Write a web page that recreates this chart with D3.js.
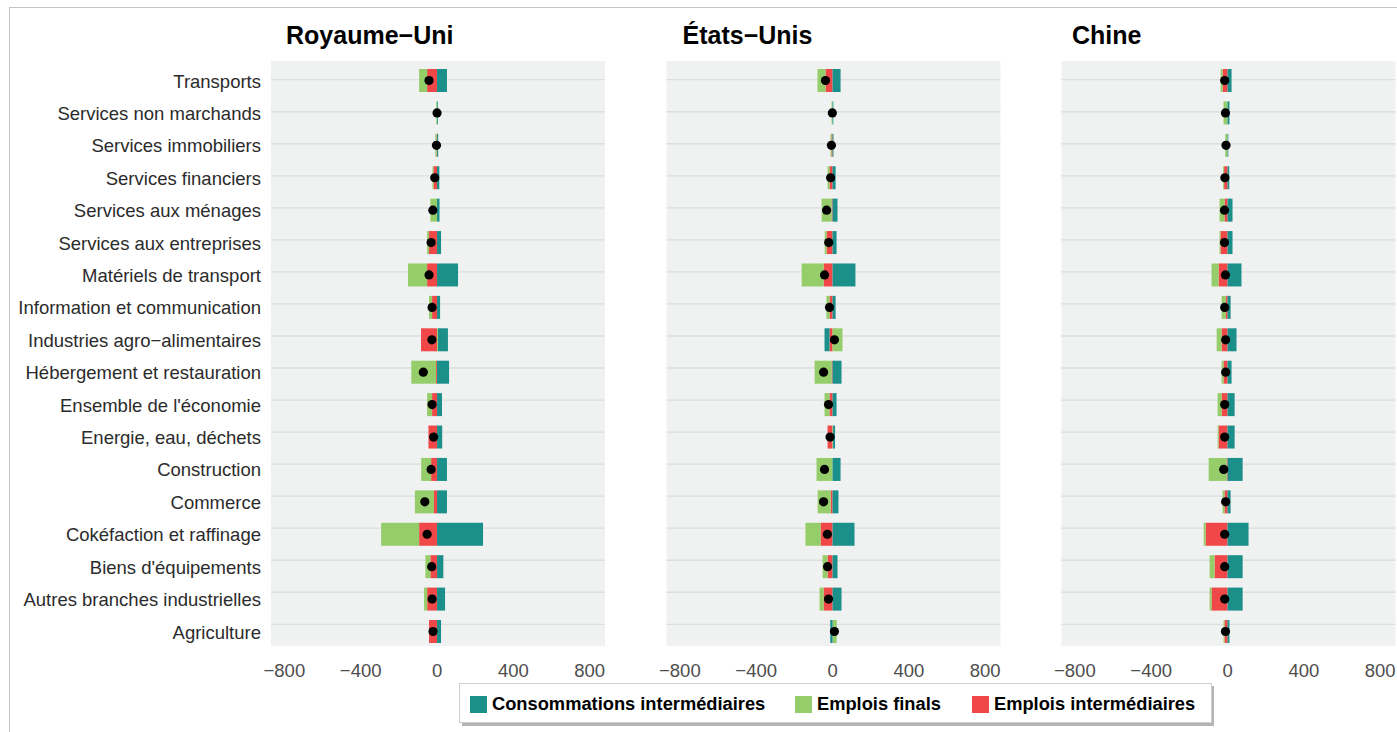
<!DOCTYPE html>
<html lang="fr">
<head>
<meta charset="utf-8">
<title>Branches</title>
<script src="https://cdn.jsdelivr.net/npm/d3@7"></script>
<style>
  body { margin: 0; background: #fff; }
  text { font-family: "Liberation Sans", Arial, sans-serif; }
</style>
</head>
<body>
<div id="chart"></div>
<script>
// categories, top to bottom
var categories = ["Transports", "Services non marchands", "Services immobiliers", "Services financiers",
  "Services aux ménages", "Services aux entreprises", "Matériels de transport", "Information et communication",
  "Industries agro−alimentaires", "Hébergement et restauration", "Ensemble de l'économie", "Energie, eau, déchets ",
  "Construction", "Commerce", "Cokéfaction et raffinage", "Biens d'équipements",
  "Autres branches industrielles", "Agriculture"];

var countries = ["Royaume−Uni", "États−Unis", "Chine"];
var seriesNames = ["Consommations intermédiaires", "Emplois finals", "Emplois intermédiaires"];
var xTicks = [-800, -400, 0, 400, 800];

// Royaume-Uni
var ukCI = [52, 4, 6, 12, 13, 21, 110, 16, 52, 63, 26, 27, 52, 52, 241, 33, 42, 21];
var ukEF = [-42, -4, -6, -5, -35, -10, -100, -16, 5, -130, -26, 0, -52, -100, -199, -26, -16, 0];
var ukEI = [-52, 0, -3, -19, 0, -42, -52, -26, -84, -5, -26, -45, -31, -16, -94, -35, -52, -42];
// Etats-Unis
var usCI = [42, 4, 5, 16, 26, 21, 120, 16, -26, 47, 21, 10, 42, 31, 115, 26, 47, -12];
var usEF = [-42, -5, -5, -10, -52, -10, -115, -16, 52, -89, -26, 3, -84, -68, -79, -26, -21, 22];
var usEI = [-37, 0, -6, -16, -5, -31, -47, -16, -16, -5, -16, -26, 0, -10, -63, -26, -47, 0];
// Chine
var cnCI = [21, 10, 4, 9, 26, 26, 73, 16, 47, 21, 37, 37, 79, 16, 110, 79, 79, 10];
var cnEF = [-10, -21, -12, -5, -26, -5, -37, -21, -26, -10, -21, -5, -94, -10, -10, -26, -10, -5];
var cnEI = [-26, 0, 0, -18, -16, -37, -47, -10, -31, -21, -31, -47, -5, -16, -115, -68, -84, -16];

var panelData = [[ukCI, ukEF, ukEI], [usCI, usEF, usEI], [cnCI, cnEF, cnEI]];

var colors = {ci: "#1b8f8a", ef: "#95cd6a", ei: "#f04848"};

var W = 1397, H = 732;
var svg = d3.select("#chart").append("svg")
    .attr("width", W).attr("height", H);

svg.append("rect").attr("width", W).attr("height", H).attr("fill", "#fff");
// outer frame (only left/top visible)
svg.append("rect")
    .attr("x", 9.5).attr("y", 7.5).attr("width", W + 20).attr("height", H + 20)
    .attr("fill", "none").attr("stroke", "#c4c4c4");

var panelX = [271, 666.5, 1061.5],
    titleDx = [15, 16, 10.5],
    panelW = 334,
    panelTop = 61,
    panelBottom = 646;

var x = d3.scaleLinear().domain([-870, 880]).range([0, panelW]);
// bars / labels
var y = d3.scalePoint().domain(categories).range([80.5, 631.5]);
// gridlines
var yGrid = d3.scalePoint().domain(categories).range([79.7, 624.3]);
var barH = 23;

var fmt = function(v) { return v < 0 ? "\u2212" + Math.abs(v) : String(v); };

for (var p = 0; p < countries.length; p++) {
  var g = svg.append("g").attr("transform", "translate(" + panelX[p] + ",0)");
  var rows = categories.map(function(c, i) {
    return {cat: c, ci: panelData[p][0][i], ef: panelData[p][1][i], ei: panelData[p][2][i]};
  });

  // title
  g.append("text")
    .attr("x", titleDx[p]).attr("y", 44)
    .style("font-size", "25px").style("font-weight", "bold")
    .attr("fill", "#000")
    .text(countries[p]);

  // background
  g.append("rect")
    .attr("x", 0).attr("y", panelTop)
    .attr("width", panelW).attr("height", panelBottom - panelTop)
    .attr("fill", "#f0f2f1");

  // gridlines
  g.selectAll("line.grid").data(categories).enter().append("line")
    .attr("class", "grid")
    .attr("x1", 0).attr("x2", panelW)
    .attr("y1", function(d) { return yGrid(d); })
    .attr("y2", function(d) { return yGrid(d); })
    .attr("stroke", "#dcdedd").attr("stroke-width", 1.3);

  // stacked bars: red closest to zero, then green, then teal
  var stacked = d3.stack().keys(["ei", "ef", "ci"]).offset(d3.stackOffsetDiverging)(rows);
  g.selectAll("g.series").data(stacked).enter().append("g")
    .attr("class", "series")
    .attr("fill", function(s) { return colors[s.key]; })
    .selectAll("rect").data(function(s) { return s; }).enter().append("rect")
    .attr("x", function(d) { return x(Math.min(d[0], d[1])); })
    .attr("width", function(d) { return Math.abs(x(d[1]) - x(d[0])); })
    .attr("y", function(d) { return y(d.data.cat) - barH / 2; })
    .attr("height", barH);

  // net points
  g.selectAll("circle").data(rows).enter().append("circle")
    .attr("cx", function(d) { return x(d.ci + d.ef + d.ei); })
    .attr("cy", function(d) { return y(d.cat); })
    .attr("r", 4.6)
    .attr("fill", "#000");

  // x axis labels
  g.selectAll("text.tick").data(xTicks).enter().append("text")
    .attr("class", "tick")
    .attr("x", function(d) { return x(d); })
    .attr("y", 677)
    .attr("text-anchor", "middle")
    .style("font-size", "18.5px")
    .attr("fill", "#4d4d4d")
    .text(fmt);

  // y labels on first panel only
  if (p == 0) {
    g.selectAll("text.cat").data(categories).enter().append("text")
      .attr("class", "cat")
      .attr("x", -10)
      .attr("y", function(d) { return y(d) + 7; })
      .attr("text-anchor", "end")
      .style("font-size", "18.5px")
      .attr("fill", "#2b2b2b")
      .text(function(d) { return d; });
  }
}

// legend
var legend = svg.append("g");
legend.append("rect")
  .attr("x", 462).attr("y", 686).attr("width", 752).attr("height", 40)
  .attr("fill", "#b5b5b5");
legend.append("rect")
  .attr("x", 459.5).attr("y", 683.5).attr("width", 752).attr("height", 39)
  .attr("fill", "#fff").attr("stroke", "#cfcfcf");

var legendKeys = ["ci", "ef", "ei"],
    legendX = [470, 795, 972];
for (var i = 0; i < seriesNames.length; i++) {
  legend.append("rect")
    .attr("x", legendX[i]).attr("y", 696)
    .attr("width", 17).attr("height", 17)
    .attr("fill", colors[legendKeys[i]]);
  legend.append("text")
    .attr("x", legendX[i] + 22).attr("y", 710)
    .style("font-size", "18.3px").style("font-weight", "bold")
    .attr("fill", "#000")
    .text(seriesNames[i]);
}
</script>
</body>
</html>
